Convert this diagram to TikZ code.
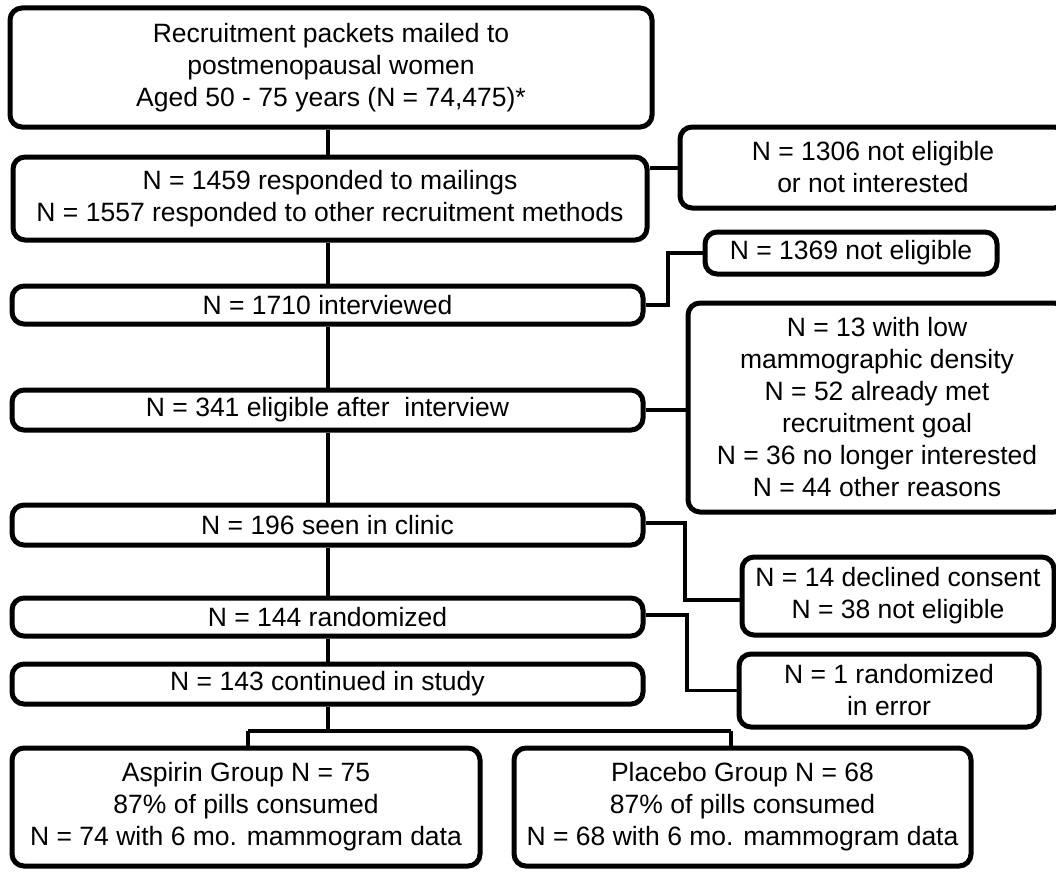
\documentclass[tikz,border=0pt]{standalone}
\usepackage{fontspec}
\setmainfont{Liberation Sans}
\begin{document}
\begin{tikzpicture}[x=1pt,y=-1pt,
  box/.style={draw=black, line width=5pt, rounded corners=12pt, fill=white, align=center, inner sep=0pt, font=\fontsize{26.5}{32}\selectfont},
  conn/.style={draw=black, line width=3.4pt}]
\useasboundingbox (0,0) rectangle (1056,872);
% main column
\node[box, minimum width=642pt, minimum height=119pt] (b1) at (331,67.5) {Recruitment packets mailed to\\postmenopausal women\\Aged 50 - 75 years (N = 74,475)*};
\node[box, minimum width=634pt, minimum height=83pt] (b2) at (330,198.5) {N = 1459 responded to mailings\\N = 1557 responded to other recruitment methods};
\node[box, minimum width=631pt, minimum height=38pt] (b3) at (327.5,305) {N = 1710 interviewed};
\node[box, minimum width=631pt, minimum height=40pt] (b4) at (327.5,410) {N = 341 eligible after\ \ interview};
\node[box, minimum width=631pt, minimum height=40pt] (b5) at (327.5,525) {N = 196 seen in clinic};
\node[box, minimum width=631pt, minimum height=38pt] (b6) at (327.5,617) {N = 144 randomized};
\node[box, minimum width=631pt, minimum height=40pt] (b7) at (327.5,684) {N = 143 continued in study};
% side boxes
\node[box, minimum width=386pt, minimum height=81pt] (sa) at (873,167.5) {N = 1306 not eligible\\or not interested};
\node[box, minimum width=292pt, minimum height=42pt] (sb) at (851,253) {N = 1369 not eligible};
\node[box, minimum width=378pt, minimum height=209pt] (sc) at (877,407.5) {N = 13 with low\\mammographic density\\N = 52 already met\\recruitment goal\\N = 36 no longer interested\\N = 44 other reasons};
\node[box, minimum width=312pt, minimum height=78pt] (sd) at (898,596) {N = 14 declined consent\\N = 38 not eligible};
\node[box, minimum width=300pt, minimum height=73pt] (se) at (889,690.5) {N = 1 randomized\\in error};
% groups
\node[box, minimum width=468pt, minimum height=118pt] (ga) at (246,807) {Aspirin Group N = 75\\87\% of pills consumed\\N = 74 with 6 mo. mammogram data};
\node[box, minimum width=457pt, minimum height=118pt] (gp) at (742.5,807) {Placebo Group N = 68\\87\% of pills consumed\\N = 68 with 6 mo. mammogram data};
% coordinates
\coordinate (m1) at (328,0);
\coordinate (kB) at (668,0);
\coordinate (kD) at (685,0);
\coordinate (kE) at (687,0);
\coordinate (split) at (328,731);
\coordinate (ja) at (248,731);
\coordinate (jp) at (731,731);
% main connectors
\draw[conn] (b1.south -| m1) -- (b2.north -| m1);
\draw[conn] (b2.south -| m1) -- (b3.north -| m1);
\draw[conn] (b3.south -| m1) -- (b4.north -| m1);
\draw[conn] (b4.south -| m1) -- (b5.north -| m1);
\draw[conn] (b5.south -| m1) -- (b6.north -| m1);
\draw[conn] (b6.south -| m1) -- (b7.north -| m1);
\draw[conn] (b7.south -| m1) -- (split);
\draw[conn] (ja) -- (jp);
\draw[conn] (ja) -- (ga.north -| ja);
\draw[conn] (jp) -- (gp.north -| jp);
% side connectors
\draw[conn] (b2.east |- 0,168) -- (sa.west |- 0,168);
\draw[conn] (sb.west) -- (sb.west -| kB) -- (b3.east -| kB) -- (b3.east);
\draw[conn] (b4.east) -- (b4.east -| sc.west);
\draw[conn] (b5.east |- 0,523) -- (kD |- 0,523) -- (kD |- 0,600) -- (sd.west |- 0,600);
\draw[conn] (b6.east |- 0,615) -- (kE |- 0,615) -- (kE |- se.west) -- (se.west);
\end{tikzpicture}
\end{document}
